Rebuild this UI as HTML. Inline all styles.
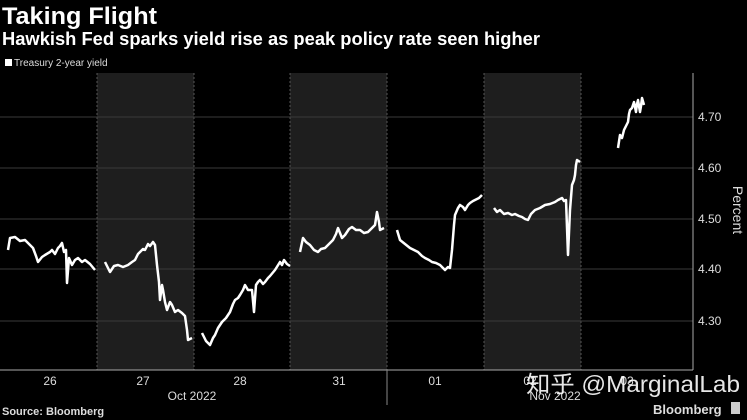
<!DOCTYPE html>
<html><head><meta charset="utf-8"><style>
html,body{margin:0;padding:0;background:#000;width:747px;height:420px;overflow:hidden}
svg{display:block}
text{font-family:"Liberation Sans","Noto Sans CJK SC",sans-serif}
</style></head><body>
<svg width="747" height="420" viewBox="0 0 747 420" xmlns="http://www.w3.org/2000/svg">
<rect width="747" height="420" fill="#000"/>
<text x="2" y="24" fill="#fff" font-size="24" font-weight="bold" textLength="155" lengthAdjust="spacingAndGlyphs">Taking Flight</text>
<text x="2" y="45" fill="#fff" font-size="18" font-weight="bold" textLength="538" lengthAdjust="spacingAndGlyphs">Hawkish Fed sparks yield rise as peak policy rate seen higher</text>
<rect x="5" y="59" width="7" height="7" fill="#fff"/>
<text x="14" y="66" fill="#ddd" font-size="10">Treasury 2-year yield</text>
<g fill="#1e1e1e">
<rect x="97" y="73" width="97" height="297"/>
<rect x="290" y="73" width="97" height="297"/>
<rect x="484" y="73" width="97" height="297"/>
</g>
<g stroke="#555" stroke-dasharray="2,2" stroke-width="1">
<line x1="97" y1="73" x2="97" y2="370"/><line x1="194" y1="73" x2="194" y2="370"/>
<line x1="290" y1="73" x2="290" y2="370"/><line x1="387" y1="73" x2="387" y2="370"/>
<line x1="484" y1="73" x2="484" y2="370"/><line x1="581" y1="73" x2="581" y2="370"/>
</g>
<g stroke="#3a3a3a" stroke-width="1">
<line x1="0" y1="117" x2="693" y2="117"/><line x1="0" y1="168" x2="693" y2="168"/>
<line x1="0" y1="219" x2="693" y2="219"/><line x1="0" y1="269" x2="693" y2="269"/>
<line x1="0" y1="321" x2="693" y2="321"/>
</g>
<line x1="693" y1="73" x2="693" y2="370" stroke="#aaa"/>
<line x1="0" y1="370" x2="693" y2="370" stroke="#aaa"/>
<line x1="387" y1="370" x2="387" y2="405" stroke="#888"/>
<g fill="#ddd" font-size="12">
<text x="698" y="121">4.70</text><text x="698" y="172">4.60</text><text x="698" y="223">4.50</text>
<text x="698" y="273">4.40</text><text x="698" y="325">4.30</text>
</g>
<text x="733" y="210" fill="#ddd" font-size="14" transform="rotate(90 733 210)" text-anchor="middle">Percent</text>
<g fill="#ddd" font-size="12" text-anchor="middle">
<text x="50" y="385">26</text><text x="143" y="385">27</text><text x="240" y="385">28</text>
<text x="339" y="385">31</text><text x="435" y="385">01</text><text x="530" y="385">02</text><text x="627" y="385">03</text>
<text x="192" y="400">Oct 2022</text><text x="555" y="400">Nov 2022</text>
</g>
<g fill="none" stroke="#fff" stroke-width="2.5" stroke-linejoin="round">
<polyline points="8,250 10,238 15,237 20,241 25,240 30,245 33,248 36,256 38,262 42,257 45,255 50,252 52,250 55,254 58,248 60,246 62,243 64,252 66,250 67,283 69,258 72,265 75,260 78,258 82,262 85,260 90,264 95,270"/>
<polyline points="105,262 108,268 110,272 114,266 118,265 123,267 128,265 132,262 135,260 138,254 140,252 143,249 145,250 148,244 150,246 153,242 155,245 157,265 159,282 160,300 162,285 163,290 165,302 167,310 170,302 172,305 175,312 178,310 182,313 185,316 187,330 188,340 192,338"/>
<polyline points="202,333 206,341 210,345 213,338 215,335 218,328 222,322 226,318 230,312 233,304 235,300 238,298 240,295 243,290 245,285 248,290 252,290 254,312 256,285 258,282 260,280 263,284 265,282 268,278 270,276 275,270 280,262 282,265 284,260 287,264 290,266"/>
<polyline points="300,252 303,238 306,242 310,245 314,250 318,252 321,249 325,248 329,244 333,240 336,234 338,228 342,238 345,235 349,229 352,227 356,230 360,230 364,233 368,232 372,228 375,225 377,212 379,222 380,230 384,228"/>
<polyline points="397,230 400,240 405,244 410,248 414,250 418,252 422,256 425,258 429,260 432,262 436,263 440,265 443,268 445,270 448,267 450,268 452,250 454,225 455,215 458,208 460,205 463,207 465,210 468,205 470,203 473,201 475,200 479,198 482,195"/>
<polyline points="494,208 497,212 500,210 504,214 508,213 512,215 515,214 519,216 522,217 525,219 528,220 531,214 535,210 540,208 545,205 550,204 555,202 558,200 562,198 564,201 566,200 568,255 570,210 572,185 574,180 575,175 576,165 577,160 580,162"/>
<polyline points="618,148 620,135 622,138 624,130 626,126 628,122 629,114 630,110 632,108 634,102 636,112 637,104 638,100 640,112 641,106 642,98 644,105"/>
</g>
<text x="2" y="415" fill="#ddd" font-size="11" font-weight="bold">Source: Bloomberg</text>
<text x="653" y="414" fill="#ddd" font-size="13" font-weight="bold">Bloomberg</text>
<rect x="731" y="402" width="9" height="12" fill="#ccc"/>
<text x="526" y="392" fill="#fff" font-size="23" opacity="0.9" textLength="214" lengthAdjust="spacingAndGlyphs">知乎 @MarginalLab</text>
</svg>
</body></html>
